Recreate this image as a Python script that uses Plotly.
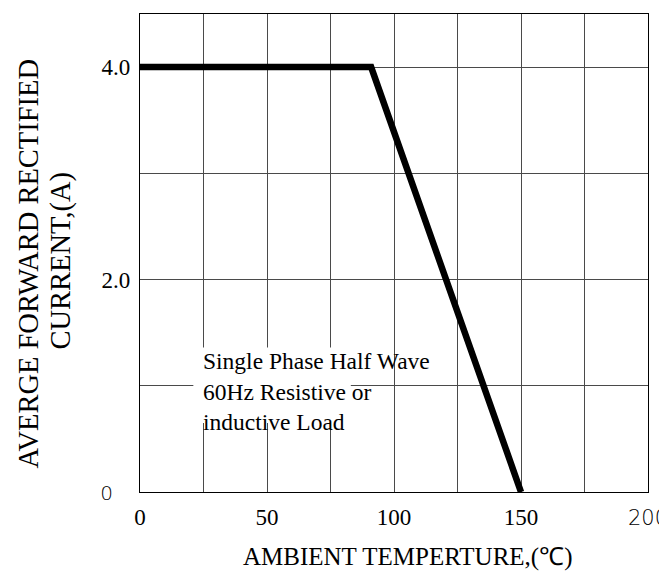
import plotly.graph_objects as go

# Data
temperature = [0, 91, 150]
current = [4.0, 4.0, 0.0]

x_tick_vals = [0, 25, 50, 75, 100, 125, 150, 175, 200]
x_tick_text = ["0", "", "50", "", "100", "", "150", "",
               "<span style=\"font-family:'DejaVu Sans';font-weight:200;font-size:21px\">200</span>"]
y_tick_vals = [0, 1, 2, 3, 4]
y_tick_text = ["<span style=\"font-family:'DejaVu Sans';font-weight:200;font-size:20px\">0</span>&nbsp;&nbsp;&nbsp;",
               "", "2.0", "", "4.0"]

x_title = "AMBIENT TEMPERTURE,(℃)"
y_title_line1 = "AVERGE FORWARD RECTIFIED"
y_title_line2 = "CURRENT,(A)"
note_text = "Single Phase Half Wave<br>60Hz Resistive or<br>inductive Load"

SERIF = "Liberation Serif, Times New Roman, serif"

fig = go.Figure()
fig.add_trace(go.Scatter(
    x=temperature, y=current, mode="lines",
    line=dict(color="black", width=6.5),
    hoverinfo="skip", showlegend=False,
))

axis_common = dict(
    showgrid=True, gridcolor="#4a4a4a", gridwidth=1,
    showline=True, linecolor="black", linewidth=1.3, mirror=True,
    ticks="", zeroline=False, automargin=False,
    tickfont=dict(size=23, family=SERIF, color="black"),
)

fig.update_layout(
    width=667, height=572,
    margin=dict(l=132, r=27, t=6, b=88),
    paper_bgcolor="white", plot_bgcolor="white",
    font=dict(family=SERIF, color="black"),
    xaxis=dict(range=[0, 200], tickvals=x_tick_vals, ticktext=x_tick_text,
               ticklabelstandoff=4, **axis_common),
    yaxis=dict(range=[0, 4.5], tickvals=y_tick_vals, ticktext=y_tick_text,
               ticklabelstandoff=4, **axis_common),
    shapes=[dict(
        type="rect", xref="x", yref="y", x0=21, x1=83, y0=0.65, y1=1.36,
        fillcolor="white", line=dict(width=0), layer="between",
    )],
    annotations=[
        dict(text=note_text, xref="x", yref="y", x=24, y=1.37,
             xanchor="left", yanchor="top", align="left", showarrow=False,
             font=dict(size=23.5, family=SERIF, color="black")),
        dict(text=x_title, xref="paper", yref="paper", x=0.5, y=0,
             xanchor="center", yanchor="middle", xshift=14, yshift=-65,
             showarrow=False, font=dict(size=25, family=SERIF, color="black")),
        dict(text=y_title_line1, xref="paper", yref="paper", x=0, y=0.5,
             xanchor="center", yanchor="middle", xshift=-112.5, yshift=-11,
             textangle=-90, showarrow=False,
             font=dict(size=28.5, family=SERIF, color="black")),
        dict(text=y_title_line2, xref="paper", yref="paper", x=0, y=0.5,
             xanchor="center", yanchor="middle", xshift=-79.5, yshift=-8,
             textangle=-90, showarrow=False,
             font=dict(size=28.5, family=SERIF, color="black")),
    ],
)

fig.write_html("out.html")
